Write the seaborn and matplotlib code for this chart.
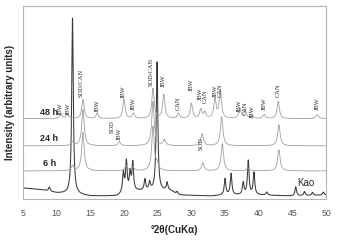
import numpy as np
import pandas as pd
import matplotlib
matplotlib.use("Agg")
import matplotlib.pyplot as plt
import seaborn as sns

# ---------------- data ----------------
# y units: pixel-like height above the bottom frame (0..192)
two_theta_ticks = [5, 10, 15, 20, 25, 30, 35, 40, 45, 50]

# Kaolinite (bottom, dark)
kao_base_x = [5, 8, 10, 12, 15, 19, 20, 22, 27, 28, 33, 35, 40, 45, 50]
kao_base_y = [11, 9, 6, 5, 3, 3, 6, 8, 8, 4, 3, 4, 4, 3, 4]
kao_pos = [8.9, 12.35, 19.9, 20.35, 20.9, 21.3, 23.1, 23.8, 24.9, 26.4, 27.9,
           35.0, 35.9, 37.7, 38.45, 39.3, 41.2, 45.5, 46.8, 48.0, 49.6]
kao_h = [4, 176, 20, 30, 18, 28, 11, 8, 128, 8, 3,
         16, 21, 12, 34, 22, 3, 9, 4, 3, 3]

# 6 h
h6_base = 28
h6_pos = [12.35, 13.9, 20.3, 21.3, 24.3, 24.9, 31.7, 34.6, 38.4, 43.0]
h6_h = [5, 38, 5, 4, 44, 6, 8, 27, 3, 21]

# 24 h
h24_base = 53
h24_pos = [12.35, 13.9, 19.3, 24.3, 26.0, 31.6, 34.5, 43.0]
h24_h = [4, 36, 4, 44, 6, 12, 29, 21]

# 48 h
h48_base = 80
h48_pos = [10.6, 11.6, 13.9, 16.0, 20.0, 21.4, 24.3, 25.9, 28.1, 30.0, 31.4,
           32.0, 33.5, 34.3, 37.2, 38.0, 39.0, 40.8, 42.9, 48.7]
h48_h = [5, 5, 19, 5, 19, 5, 30, 24, 5, 15, 9, 6, 19, 28, 10, 8, 3, 4, 17, 4]

# peak annotations: (text, 2theta, bottom height)
labels_txt = ["JBW", "JBW", "SOD/CAN", "JBW", "JBW", "JBW", "SOD/CAN", "JBW",
              "CAN", "JBW", "JBW", "CAN", "JBW", "CAN", "JBW", "CAN", "JBW",
              "JBW", "CAN", "JBW", "SOD", "JBW", "SOD"]
labels_x = [10.6, 11.7, 13.6, 16.0, 19.9, 21.4, 24.0, 25.9,
            28.1, 30.0, 31.3, 32.1, 33.5, 34.3, 37.2, 38.0, 39.0,
            40.8, 42.9, 48.7, 18.3, 19.3, 31.5]
labels_y = [84, 84, 102, 87, 101, 89, 112, 111,
            89, 107, 99, 96, 102, 102, 87, 84, 81,
            89, 102, 89, 66, 59, 49]

sample_names = ["Kao", "6 h", "24 h", "48 h"]

# ---------------- build profiles ----------------
x = np.arange(5.0, 50.0001, 0.02)


def profile(base, pos, h, w=0.13):
    y = np.array(base, dtype=float) * np.ones_like(x)
    for p, hh in zip(pos, h):
        y = y + hh / (1.0 + ((x - p) / w) ** 2)
    return y


kao = profile(np.interp(x, kao_base_x, kao_base_y), kao_pos, kao_h, 0.14)
y6 = profile(h6_base, h6_pos, h6_h, 0.22)
y24 = profile(h24_base, h24_pos, h24_h, 0.22)
y48 = profile(h48_base, h48_pos, h48_h, 0.2)

df = pd.concat([
    pd.DataFrame({"2theta": x, "I": kao, "sample": "Kao"}),
    pd.DataFrame({"2theta": x, "I": y6, "sample": "6 h"}),
    pd.DataFrame({"2theta": x, "I": y24, "sample": "24 h"}),
    pd.DataFrame({"2theta": x, "I": y48, "sample": "48 h"}),
])

# ---------------- plot ----------------
sns.set_style("white")
plt.rcParams["font.family"] = ["Liberation Sans", "DejaVu Sans"]

fig = plt.figure(figsize=(3.42, 2.41), dpi=100)
ax = fig.add_axes([0.0673, 0.174, 0.886, 0.801])

palette = {"Kao": "#3a3a3a", "6 h": "#a0a0a0", "24 h": "#a0a0a0", "48 h": "#a0a0a0"}
sns.lineplot(data=df, x="2theta", y="I", hue="sample", palette=palette,
             legend=False, ax=ax, linewidth=0.75, estimator=None, sort=False)
for line, name in zip(ax.lines, sample_names):
    if name != "Kao":
        line.set_linewidth(0.6)

ax.set_xlim(5, 50)
ax.set_ylim(0, 192)
ax.set_xticks(two_theta_ticks)
ax.set_xticklabels([str(t) for t in two_theta_ticks], fontsize=6.3, color="#555555")
ax.set_yticks([])
ax.tick_params(axis="x", direction="in", length=2, color="#aaaaaa", pad=7)
for s in ax.spines.values():
    s.set_color("#b5b5b5")
    s.set_linewidth(0.8)

ax.set_xlabel("°2θ(CuKα)", fontsize=7, fontweight="bold", labelpad=5)
ax.set_ylabel("Intensity (arbitrary units)", fontsize=7, fontweight="bold", labelpad=6)

# sample labels
ax.text(7.5, 86, "48 h", fontsize=6.5, fontweight="bold", ha="left", va="center")
ax.text(7.5, 60, "24 h", fontsize=6.5, fontweight="bold", ha="left", va="center")
ax.text(8.0, 35, "6 h", fontsize=6.5, fontweight="bold", ha="left", va="center")
ax.text(47.0, 16, "Kao", fontsize=7, ha="center", va="center")

# peak labels
for t, px, py in zip(labels_txt, labels_x, labels_y):
    ax.text(px, py, t, rotation=90, fontsize=4.6, ha="center", va="bottom",
            family=["Liberation Serif", "DejaVu Serif"])

fig.savefig("out.png", dpi=100)
